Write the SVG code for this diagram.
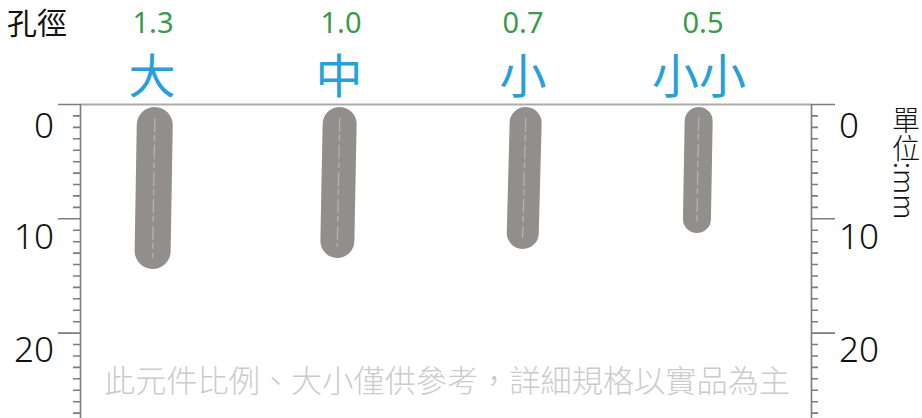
<svg xmlns="http://www.w3.org/2000/svg" width="922" height="418" viewBox="0 0 922 418">
<defs>
<style>
.cjk{font-family:"Noto Sans CJK TC","Noto Sans CJK SC",sans-serif;}
.num{font-family:"Noto Sans","Liberation Sans",sans-serif;}
.dia{fill:#3a9a4c;font-size:29px;text-anchor:middle;}
.size{fill:#27a0da;font-size:47px;text-anchor:middle;font-weight:400;}
.rl{fill:#111;font-size:35px;font-weight:300;}
.rule{stroke:#7c7c7c;stroke-width:1.6;fill:none;}
.bar{fill:#918e8c;}
.hl{stroke:#b4b3b2;stroke-width:1.3;stroke-dasharray:14 3 6 4;fill:none;}
</style>
</defs>
<rect width="922" height="418" fill="#ffffff"/>

<g id="header">
<text class="cjk" x="7" y="34" font-size="30" fill="#111">孔徑</text>
</g>

<g id="ruler-left">
<line x1="80" y1="104.5" x2="812" y2="104.5" stroke="#ababab" stroke-width="2"/>
<path class="rule" d="M58 104.5H80.5M80.5 104V418
M73 115.9H80.5M73 127.4H80.5M73 138.8H80.5M73 150.2H80.5M73 161.7H80.5M73 173.1H80.5M73 184.5H80.5M73 195.9H80.5M73 207.4H80.5
M58 218.8H80.5
M73 230.2H80.5M73 241.7H80.5M73 253.1H80.5M73 264.5H80.5M73 276H80.5M73 287.4H80.5M73 298.8H80.5M73 310.2H80.5M73 321.7H80.5
M58 333.1H80.5
M73 344.5H80.5M73 356H80.5M73 367.4H80.5M73 378.8H80.5M73 390.3H80.5M73 401.7H80.5M73 413.1H80.5"/>
<text class="num rl" x="54" y="138" text-anchor="end">0</text>
<text class="num rl" x="54" y="249" text-anchor="end">10</text>
<text class="num rl" x="54" y="362" text-anchor="end">20</text>
</g>

<g id="ruler-right">
<path class="rule" d="M811.5 104.5H835M811.5 104V418
M811.5 115.9H818M811.5 127.4H818M811.5 138.8H818M811.5 150.2H818M811.5 161.7H818M811.5 173.1H818M811.5 184.5H818M811.5 195.9H818M811.5 207.4H818
M811.5 218.8H835
M811.5 230.2H818M811.5 241.7H818M811.5 253.1H818M811.5 264.5H818M811.5 276H818M811.5 287.4H818M811.5 298.8H818M811.5 310.2H818M811.5 321.7H818
M811.5 333.1H835
M811.5 344.5H818M811.5 356H818M811.5 367.4H818M811.5 378.8H818M811.5 390.3H818M811.5 401.7H818M811.5 413.1H818"/>
<text class="num rl" x="839" y="138">0</text>
<text class="num rl" x="839" y="249">10</text>
<text class="num rl" x="839" y="362">20</text>
<text class="cjk" x="906" y="106" font-size="28" fill="#111" style="writing-mode:vertical-rl;text-orientation:mixed" font-weight="300">單位:mm</text>
</g>

<g id="node-large">
<text class="num dia" x="153" y="33">1.3</text>
<text class="cjk size" x="152" y="93">大</text>
<g transform="rotate(0.95 153.7 188)">
<rect class="bar" x="135.7" y="107" width="36" height="162" rx="18"/>
<line class="hl" x1="153.7" y1="118" x2="153.7" y2="258"/>
</g>
</g>

<g id="node-medium">
<text class="num dia" x="341" y="33">1.0</text>
<text class="cjk size" x="339" y="93">中</text>
<g transform="rotate(1.1 338.5 182.5)">
<rect class="bar" x="321.5" y="107" width="34" height="151" rx="17"/>
<line class="hl" x1="338.5" y1="118" x2="338.5" y2="247"/>
</g>
</g>

<g id="node-small">
<text class="num dia" x="523" y="33">0.7</text>
<text class="cjk size" x="523" y="93">小</text>
<g transform="rotate(1.5 524.2 178)">
<rect class="bar" x="508.2" y="107" width="32" height="142" rx="16"/>
<line class="hl" x1="524.2" y1="118" x2="524.2" y2="238"/>
</g>
</g>

<g id="node-xsmall">
<text class="num dia" x="703" y="33">0.5</text>
<text class="cjk size" x="699" y="93">小小</text>
<g transform="rotate(1 697.8 170)">
<rect class="bar" x="683.8" y="107" width="28" height="126" rx="14"/>
<line class="hl" x1="697.8" y1="117" x2="697.8" y2="223"/>
</g>
</g>

<g id="note">
<text class="cjk" x="104" y="392" font-size="31" fill="#cbcbcb" font-weight="300" textLength="686" lengthAdjust="spacingAndGlyphs">此元件比例、大小僅供參考，詳細規格以實品為主</text>
</g>
</svg>
